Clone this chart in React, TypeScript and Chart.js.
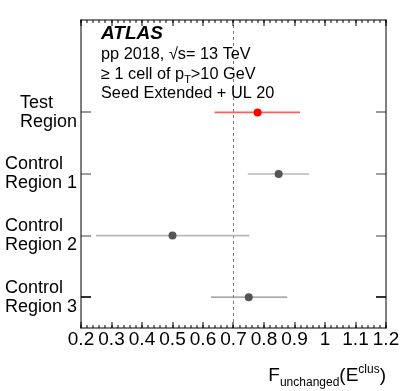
import React, { useEffect, useRef } from 'react';
import { Chart, registerables } from 'chart.js';

Chart.register(...registerables);

// ---- data ----
const regionLabels: string[][] = [
  ['Test', 'Region'],
  ['Control', 'Region 1'],
  ['Control', 'Region 2'],
  ['Control', 'Region 3'],
];
const rowPositions = [4, 3, 2, 1];
const centralValues = [0.779, 0.848, 0.5, 0.75];
const errLow = [0.638, 0.747, 0.249, 0.626];
const errHigh = [0.918, 0.948, 0.752, 0.876];
const pointColors = ['#ff0000', '#555555', '#555555', '#555555'];
const barColors = ['#ff5c5c', '#b8b8b8', '#b8b8b8', '#8c8c8c'];
const rowTickColors = ['#9a9a9a', '#a0a0a0', '#a0a0a0', '#333333'];
const referenceX = 0.7;
const xTickValues = [0.2, 0.3, 0.4, 0.5, 0.6, 0.7, 0.8, 0.9, 1.0, 1.1, 1.2];
const xMinorStep = 0.02;
const xRange = [0.2, 1.2];
const yRange = [0.5, 5.5];
const atlasLabel = 'ATLAS';
const infoLines = ['pp 2018, √s= 13 TeV', '≥ 1 cell of p_T>10 GeV', 'Seed Extended + UL 20'];

const FONT = '"Liberation Sans", Arial, Helvetica, sans-serif';

const framePlugin = {
  id: 'rootFrame',
  afterDraw(chart: any) {
    const ctx: CanvasRenderingContext2D = chart.ctx;
    const a = chart.chartArea;
    const L = Math.round(a.left);
    const R = Math.round(a.right);
    const T = Math.round(a.top);
    const B = Math.round(a.bottom);
    ctx.save();
    ctx.setLineDash([]);
    ctx.globalAlpha = 1;
    ctx.fillStyle = '#000000';
    // x ticks (major from x scale, minor from xMinor scale), top and bottom, pointing inward
    const xs = chart.scales.x;
    const xm = chart.scales.xMinor;
    const drawX = (ticks: any[], len: number) => {
      (ticks || []).forEach((t: any) => {
        const px = Math.round(xs.getPixelForValue(t.value));
        ctx.fillRect(px - 0.5, B - len, 1, len);
        ctx.fillRect(px - 0.5, T, 1, len);
      });
    };
    drawX(xm ? xm.ticks : [], 3);
    drawX(xs.ticks, 6);
    // y ticks left and right
    const ys = chart.scales.y;
    ys.ticks.forEach((t: any) => {
      const py = Math.round(ys.getPixelForValue(t.value));
      ctx.fillStyle = rowTickColors[rowPositions.indexOf(t.value)] || '#000';
      ctx.fillRect(L, py - 1, 10, 2);
      ctx.fillRect(R - 10, py - 1, 10, 2);
    });
    // frame
    ctx.fillStyle = '#000000';
    ctx.fillRect(L - 0.5, T - 0.5, 1, B - T + 1);
    ctx.fillRect(R - 0.5, T - 0.5, 1, B - T + 1);
    ctx.fillRect(L - 0.5, T - 0.5, R - L + 1, 1);
    ctx.fillRect(L - 0.5, B - 0.5, R - L + 1, 1);
    ctx.restore();
  },
};

const overlayPlugin = {
  id: 'atlasOverlay',
  afterDraw(chart: any) {
    const ctx: CanvasRenderingContext2D = chart.ctx;
    const area = chart.chartArea;
    const yScale = chart.scales.y;
    ctx.save();
    ctx.fillStyle = '#000';

    // y category labels (block right-aligned, lines left-aligned)
    ctx.font = `18px ${FONT}`;
    ctx.textBaseline = 'middle';
    ctx.textAlign = 'left';
    regionLabels.forEach((lines, i) => {
      const y = yScale.getPixelForValue(rowPositions[i]);
      const maxW = Math.max(...lines.map((l) => ctx.measureText(l).width));
      const x = yScale.right - 4 - maxW;
      const lh = 19;
      lines.forEach((l, k) => {
        ctx.fillText(l, x, y + (k - (lines.length - 1) / 2) * lh);
      });
    });

    // ATLAS label
    ctx.textBaseline = 'alphabetic';
    const hx = area.left + 20;
    ctx.font = `italic bold 19px ${FONT}`;
    ctx.fillText(atlasLabel, hx, 38.5);

    // info lines
    const baselines = [59, 78.5, 97.5];
    const fs = 16.3;
    infoLines.forEach((line, i) => {
      ctx.font = `${fs}px ${FONT}`;
      const parts = line.split('_');
      if (parts.length === 1) {
        ctx.fillText(line, hx, baselines[i]);
      } else {
        let x = hx;
        ctx.fillText(parts[0], x, baselines[i]);
        x += ctx.measureText(parts[0]).width;
        const sub = parts[1].charAt(0);
        const rest = parts[1].slice(1);
        ctx.font = `11px ${FONT}`;
        ctx.fillText(sub, x, baselines[i] + 4);
        x += ctx.measureText(sub).width;
        ctx.font = `${fs}px ${FONT}`;
        ctx.fillText(rest, x, baselines[i]);
      }
    });

    // x axis title: F_{unchanged}(E^{clus})
    const segs = [
      { t: 'F', size: 19, dy: 0 },
      { t: 'unchanged', size: 12, dy: 5 },
      { t: '(E', size: 19, dy: 0 },
      { t: 'clus', size: 12, dy: -8 },
      { t: ')', size: 19, dy: 0 },
    ];
    let total = 0;
    segs.forEach((s) => {
      ctx.font = `${s.size}px ${FONT}`;
      total += ctx.measureText(s.t).width;
    });
    let tx = area.right - total;
    const tb = 381;
    segs.forEach((s) => {
      ctx.font = `${s.size}px ${FONT}`;
      ctx.fillText(s.t, tx, tb + s.dy);
      tx += ctx.measureText(s.t).width;
    });
    ctx.restore();
  },
};

function App() {
  const ref = useRef<HTMLCanvasElement | null>(null);
  useEffect(() => {
    if (!ref.current) return;
    const errorDatasets = rowPositions.map((y, i) => ({
      showLine: true,
      data: [
        { x: errLow[i], y },
        { x: errHigh[i], y },
      ],
      borderColor: barColors[i],
      borderWidth: i === 3 ? 1.2 : 1.6,
      pointRadius: 0,
      order: 1,
    }));
    const chart = new Chart(ref.current, {
      type: 'scatter',
      data: {
        datasets: [
          {
            data: centralValues.map((v, i) => ({ x: v, y: rowPositions[i] })),
            pointBackgroundColor: pointColors,
            pointBorderColor: pointColors,
            pointBorderWidth: 0,
            pointRadius: 4,
            order: 0,
          } as any,
          ...errorDatasets,
          {
            showLine: true,
            data: [
              { x: referenceX, y: yRange[0] },
              { x: referenceX, y: yRange[1] },
            ],
            borderColor: '#777777',
            borderWidth: 1,
            borderDash: [3, 3],
            pointRadius: 0,
            order: 2,
          },
        ],
      },
      options: {
        animation: false,
        responsive: false,
        maintainAspectRatio: false,
        events: [],
        layout: { padding: { top: 20, right: 21, left: 0, bottom: 0 } },
        plugins: { legend: { display: false }, tooltip: { enabled: false } },
        scales: {
          x: {
            type: 'linear',
            position: 'bottom',
            min: xRange[0],
            max: xRange[1],
            afterBuildTicks: (s: any) => {
              s.ticks = xTickValues.map((v) => ({ value: v }));
            },
            afterFit: (s: any) => {
              s.height = 63;
            },
            ticks: {
              autoSkip: false,
              maxRotation: 0,
              minRotation: 0,
              padding: 0,
              color: '#000',
              font: { family: FONT, size: 19 },
              callback: (v: any) => String(+Number(v).toFixed(1)),
            },
            grid: { display: false, drawTicks: false },
            border: { display: false },
          },
          xMinor: {
            type: 'linear',
            position: 'bottom',
            weight: -1,
            min: xRange[0],
            max: xRange[1],
            afterFit: (s: any) => {
              s.height = 0;
            },
            ticks: { display: false, stepSize: xMinorStep, maxTicksLimit: 100 },
            grid: { display: false, drawTicks: false },
            border: { display: false },
          },
          y: {
            type: 'linear',
            position: 'left',
            min: yRange[0],
            max: yRange[1],
            afterBuildTicks: (s: any) => {
              s.ticks = [...rowPositions].sort((a, b) => a - b).map((v) => ({ value: v }));
            },
            afterFit: (s: any) => {
              s.width = 81;
            },
            ticks: { display: false },
            grid: { display: false, drawTicks: false },
            border: { display: false },
          },
        },
      } as any,
      plugins: [framePlugin, overlayPlugin],
    });
    return () => chart.destroy();
  }, []);

  return (
    <div style={{ position: 'absolute', left: 0, top: 0, width: 407, height: 391, background: '#fff' }}>
      <canvas ref={ref} width={407} height={391} style={{ width: 407, height: 391, display: 'block' }} />
    </div>
  );
}

export default App;
